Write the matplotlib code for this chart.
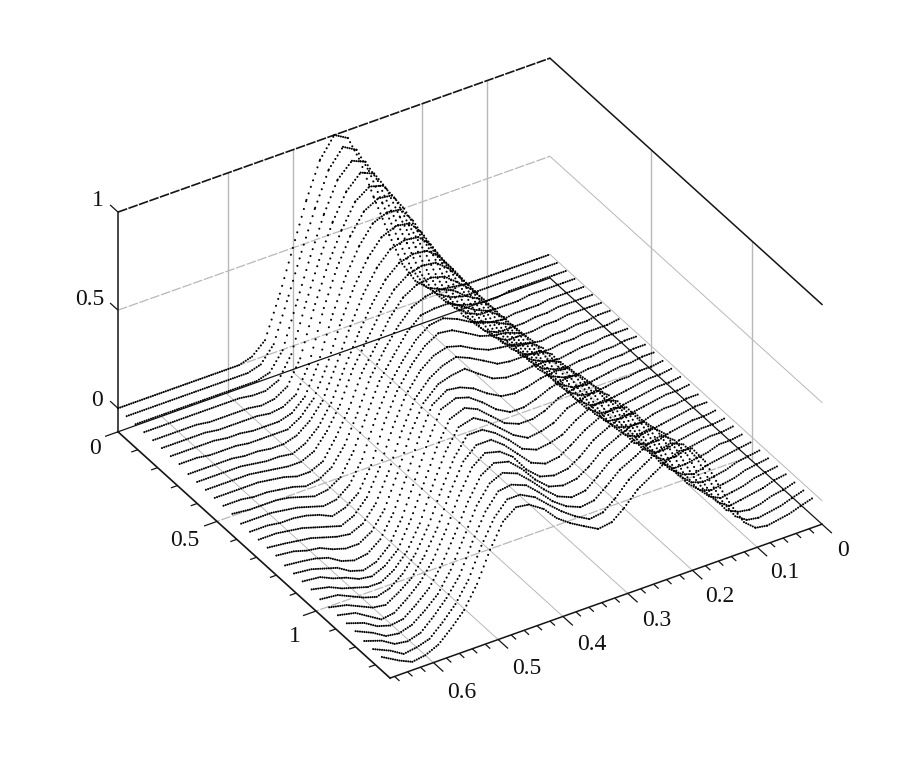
import numpy as np
import matplotlib
matplotlib.use("Agg")
import matplotlib.pyplot as plt
from mpl_toolkits.mplot3d import proj3d
from mpl_toolkits.mplot3d.art3d import Line3DCollection

plt.rcParams['lines.scale_dashes'] = False
plt.rcParams['font.family'] = ['Liberation Serif', 'DejaVu Serif']

# ---------- data ----------
t_values = [.667, .64, .62, .60, .58, .56, .54, .52, .50, .48, .46, .44, .417, .397, .376, .355, .333,
            .312, .293, .272, .248, .228, .208, .188, .168, .148, .128, .108, .09, .072, .055, .038, .02, .00]
p_values = [0, .044, .089, .133, .178, .222, .267, .311, .356, .400, .444, .489, .533, .578, .622, .667,
            .711, .756, .800, .844, .889, .933, .978, 1.022, 1.067, 1.111, 1.156, 1.200, 1.244, 1.289, 1.333]
surface_z = [
 [0,0,0,0, 0,0,0,0, 0,0,.02,.08, .29,.50,.72,.90, 1.0,.96,.82,.61, .39,.22,.11,.05, .02,.01,0,0, 0,0,0,0, 0,0],
 [0,0,0,0, 0,0,0,0, 0,0,.02,.10, .32,.52,.72,.89, .98,.94,.81,.62, .41,.24,.13,.06, .02,0,0,0, 0,0,0,0, 0,0],
 [0,0,0,0, 0,0,0,0, 0,0,.02,.11, .34,.54,.73,.88, .95,.92,.80,.62, .43,.26,.14,.06, .02,0,-.01,-.01, 0,0,0,0, 0,0],
 [0,0,0,0, 0,0,0,0, -.01,-.01,.02,.13, .37,.56,.73,.86, .93,.90,.80,.63, .45,.29,.16,.07, .02,-.01,-.01,-.01, -.01,0,0,0, 0,0],
 [0,0,0,0, -.01,-.01,-.01,-.01, -.02,-.01,.03,.15, .40,.58,.73,.85, .90,.88,.79,.63, .47,.31,.18,.07, .01,-.01,-.02,-.01, -.01,-.01,0,0, 0,0],
 [0,0,0,0, -.01,-.01,-.01,-.01, -.02,-.01,.03,.16, .42,.60,.74,.84, .88,.87,.78,.64, .49,.33,.19,.08, .01,-.02,-.02,-.02, -.01,-.01,0,0, 0,0],
 [0,0,0,0, -.01,-.01,-.02,-.02, -.02,0,.06,.20, .43,.60,.73,.82, .85,.84,.76,.63, .49,.34,.20,.09, .02,-.02,-.02,-.02, -.01,-.01,0,0, 0,0],
 [0,0,-.01,-.01, -.01,-.02,-.02,-.02, -.02,.02,.09,.23, .44,.59,.71,.79, .82,.81,.74,.62, .49,.36,.22,.11, .03,-.01,-.02,-.03, -.02,-.02,-.01,-.01, 0,0],
 [-.01,-.01,-.01,-.01, -.02,-.02,-.03,-.03, -.01,.04,.12,.27, .45,.59,.70,.77, .79,.78,.72,.61, .50,.37,.24,.12, .04,-.01,-.03,-.03, -.02,-.02,-.01,-.01, -.01,0],
 [-.01,-.01,-.01,-.01, -.02,-.03,-.03,-.04, -.01,.05,.15,.30, .46,.58,.68,.74, .76,.75,.70,.61, .50,.38,.25,.14, .05,0,-.03,-.04, -.03,-.02,-.02,-.01, -.01,-.01],
 [-.01,-.01,-.01,-.01, -.02,-.03,-.04,-.04, -.01,.07,.18,.34, .47,.58,.67,.72, .74,.73,.68,.60, .50,.39,.26,.15, .06,0,-.03,-.04, -.03,-.03,-.02,-.02, -.01,-.01],
 [-.01,-.01,-.01,-.01, -.02,-.03,-.05,-.05, -.02,.08,.20,.36, .48,.59,.67,.71, .72,.70,.65,.59, .50,.40,.27,.16, .06,0,-.03,-.04, -.03,-.03,-.02,-.02, -.01,-.01],
 [-.01,-.01,-.02,-.02, -.03,-.04,-.06,-.05, -.01,.08,.22,.38, .50,.59,.66,.69, .70,.67,.62,.58, .50,.40,.28,.17, .07,0,-.04,-.05, -.04,-.03,-.02,-.02, -.01,-.01],
 [-.01,-.02,-.02,-.02, -.03,-.05,-.07,-.06, -.02,.09,.25,.40, .51,.60,.66,.67, .67,.63,.59,.56, .50,.41,.29,.18, .07,0,-.04,-.05, -.04,-.03,-.03,-.02, -.02,-.01],
 [-.02,-.02,-.02,-.03, -.04,-.06,-.08,-.07, -.02,.09,.27,.41, .52,.60,.65,.66, .63,.59,.57,.54, .50,.42,.30,.18, .08,0,-.05,-.06, -.05,-.04,-.03,-.02, -.02,-.01],
 [-.02,-.02,-.03,-.03, -.04,-.06,-.09,-.07, -.02,.10,.29,.43, .54,.61,.65,.64, .60,.56,.54,.53, .50,.43,.32,.19, .08,0,-.05,-.06, -.05,-.04,-.03,-.02, -.02,-.01],
 [-.02,-.02,-.03,-.04, -.06,-.08,-.10,-.07, 0,.13,.31,.45, .55,.60,.62,.60, .56,.53,.52,.51, .49,.44,.34,.21, .10,.01,-.05,-.06, -.05,-.04,-.03,-.02, -.02,-.01],
 [-.02,-.03,-.04,-.05, -.07,-.09,-.10,-.07, .01,.15,.33,.47, .55,.59,.61,.58, .54,.50,.49,.49, .49,.45,.35,.23, .12,.02,-.04,-.06, -.06,-.04,-.03,-.03, -.02,-.02],
 [-.02,-.03,-.05,-.06, -.09,-.11,-.11,-.07, .02,.18,.36,.49, .56,.58,.59,.54, .49,.47,.47,.48, .48,.45,.37,.25, .13,.03,-.04,-.07, -.06,-.05,-.04,-.03, -.02,-.02],
 [-.03,-.04,-.05,-.07, -.11,-.13,-.12,-.07, .04,.20,.38,.52, .57,.56,.53,.48, .44,.43,.44,.46, .47,.46,.38,.27, .15,.05,-.04,-.07, -.07,-.05,-.04,-.03, -.03,-.02],
 [-.03,-.04,-.06,-.08, -.12,-.14,-.12,-.06, .06,.23,.40,.54, .57,.55,.50,.44, .40,.40,.42,.45, .47,.47,.40,.30, .17,.06,-.03,-.07, -.07,-.05,-.04,-.03, -.03,-.02],
 [-.03,-.04,-.07,-.09, -.12,-.13,-.10,-.04, .09,.25,.41,.53, .56,.53,.47,.41, .38,.38,.40,.44, .46,.47,.41,.31, .18,.07,-.02,-.07, -.07,-.05,-.04,-.03, -.03,-.02],
 [-.03,-.05,-.08,-.10, -.12,-.12,-.08,-.01, .11,.28,.43,.53, .55,.51,.45,.39, .35,.36,.38,.43, .45,.47,.42,.32, .19,.08,-.02,-.07, -.07,-.06,-.05,-.03, -.03,-.02],
 [-.04,-.05,-.08,-.11, -.13,-.11,-.06,.02, .14,.30,.44,.53, .53,.49,.43,.36, .33,.34,.36,.41, .45,.46,.43,.33, .20,.08,-.01,-.06, -.08,-.06,-.05,-.04, -.03,-.02],
 [-.04,-.06,-.09,-.12, -.13,-.09,-.04,.05, .17,.33,.46,.52, .52,.47,.40,.33, .30,.31,.35,.40, .44,.46,.44,.35, .22,.09,0,-.06, -.08,-.07,-.06,-.04, -.03,-.02],
 [-.04,-.06,-.10,-.14, -.13,-.08,-.02,.07, .20,.35,.47,.52, .50,.45,.36,.30, .28,.29,.33,.39, .43,.46,.45,.36, .23,.10,0,-.06, -.08,-.07,-.06,-.04, -.03,-.02],
 [-.04,-.07,-.11,-.13, -.12,-.07,-.01,.09, .22,.36,.47,.51, .49,.43,.35,.29, .27,.28,.32,.38, .42,.45,.45,.38, .26,.12,.02,-.05, -.08,-.07,-.06,-.04, -.03,-.02],
 [-.04,-.08,-.12,-.13, -.11,-.06,0,.10, .24,.38,.47,.50, .47,.41,.34,.28, .25,.26,.31,.37, .41,.45,.46,.40, .28,.15,.04,-.04, -.08,-.07,-.06,-.05, -.03,-.02],
 [-.05,-.08,-.12,-.13, -.11,-.05,.02,.11, .26,.39,.47,.48, .45,.39,.32,.27, .24,.25,.30,.36, .40,.44,.46,.41, .31,.17,.05,-.04, -.07,-.08,-.07,-.05, -.04,-.02],
 [-.05,-.09,-.13,-.12, -.10,-.04,.03,.13, .28,.40,.47,.47, .43,.37,.31,.26, .22,.23,.28,.35, .40,.44,.46,.43, .34,.20,.07,-.03, -.07,-.08,-.07,-.06, -.04,-.02],
 [-.05,-.10,-.13,-.12, -.09,-.03,.04,.15, .30,.42,.47,.46, .41,.34,.29,.25, .21,.22,.27,.34, .39,.43,.46,.45, .36,.22,.09,-.02, -.07,-.08,-.07,-.06, -.04,-.02],
]
t_ticks_major = [0, .1, .2, .3, .4, .5, .6]
t_ticks_minor = [.02, .04, .06, .08, .12, .14, .16, .18, .22, .24, .26, .28, .32, .34, .36, .38,
                 .42, .44, .46, .48, .52, .54, .56, .58, .62, .64, .66]
p_ticks_major = [0, .5, 1]
p_ticks_minor = [.1, .2, .3, .4, .6, .7, .8, .9, 1.1, 1.2, 1.3]
z_ticks = [0, .5, 1]
wall_t_grid = [.097, .197, .397, .497]
wall_p_grid = [.51, 1.02]
t_labels = ['0', '0.1', '0.2', '0.3', '0.4', '0.5', '0.6']
p_labels = ['0', '0.5', '1']
z_labels = ['0', '0.5', '1']
T_MAX, P_MAX, Z_MIN, Z_MAX = .667, 1.374, -.12, 1.0

# ---------- axes ----------
W, H = 910, 766
fig = plt.figure(figsize=(W / 100, H / 100), dpi=100, facecolor='white')
ax = fig.add_axes([.1, .1, .8, .8], projection='3d')
ax.set_proj_type('ortho')
ax.view_init(elev=34.6, azim=57.9)
ax.set_box_aspect((510, 512, 267), zoom=1.0)
ax.set_xlim(0, T_MAX, view_margin=0)
ax.set_ylim(0, P_MAX, view_margin=0)
ax.set_zlim(Z_MIN, Z_MAX, view_margin=0)
ax.set_axis_off()
ax.patch.set_alpha(0)


def to_px(a, b, c):
    X, Y, _ = proj3d.proj_transform(a, b, c, ax.get_proj())
    px = ax.transData.transform((X, Y))
    return px[0], H - px[1]


# Fit the axes box so that the floor corners land where the reference has them.
left_target, right_target = (118.0, 432.0), (822.0, 524.0)
px0, py0, size = 100.0, 60.0, 600.0
for _ in range(4):
    ax.set_position([px0 / W, 1 - (py0 + size) / H, size / W, size / H])
    ax.apply_aspect()
    a = to_px(T_MAX, 0, Z_MIN)
    c = to_px(0, P_MAX, Z_MIN)
    k = (right_target[0] - left_target[0]) / (c[0] - a[0])
    size *= k
    cx, cy = px0 + (size / k) / 2, py0 + (size / k) / 2
    ax_c = ((a[0] + c[0]) / 2, (a[1] + c[1]) / 2)
    tgt = ((left_target[0] + right_target[0]) / 2, (left_target[1] + right_target[1]) / 2)
    cx += tgt[0] - ax_c[0] - (ax_c[0] - cx) * (k - 1)
    cy += tgt[1] - ax_c[1] - (ax_c[1] - cy) * (k - 1)
    px0, py0 = cx - size / 2, cy - size / 2
ax.set_position([px0 / W, 1 - (py0 + size) / H, size / W, size / H])
ax.apply_aspect()

GRID = '#b8b8b8'
DARK = '#141414'
gdash = (0, (7, 1.2))
tk = dict(color=DARK, lw=.9, solid_capstyle='butt')

# walls and floor grid
for z in [.5, 0]:
    ax.plot([T_MAX, 0], [0, 0], [z, z], color=GRID, lw=.9, ls=gdash)
    ax.plot([0, 0], [0, P_MAX], [z, z], color=GRID, lw=.7)
for t in wall_t_grid:
    ax.plot([t, t], [0, 0], [Z_MIN, Z_MAX], color=GRID, lw=1.0)
for p in wall_p_grid:
    ax.plot([0, 0], [p, p], [Z_MIN, Z_MAX], color=GRID, lw=1.0)
for t in t_ticks_major[1:]:
    ax.plot([t, t], [0, P_MAX], [Z_MIN, Z_MIN], color=GRID, lw=.7)
for p in p_ticks_major[1:]:
    ax.plot([0, T_MAX], [p, p], [Z_MIN, Z_MIN], color=GRID, lw=.9, ls=gdash)

# box edges
ax.plot([T_MAX, T_MAX], [0, 0], [Z_MIN, Z_MAX], color=DARK, lw=1.1)
ax.plot([T_MAX, 0], [0, 0], [Z_MAX, Z_MAX], color=DARK, lw=1.2, ls=(0, (7, 1)))
ax.plot([0, 0], [0, P_MAX], [Z_MAX, Z_MAX], color=DARK, lw=1.1)
ax.plot([T_MAX, 0], [0, 0], [Z_MIN, Z_MIN], color=DARK, lw=.9)
ax.plot([0, 0], [0, P_MAX], [Z_MIN, Z_MIN], color=DARK, lw=.9)
ax.plot([T_MAX, T_MAX], [0, P_MAX], [Z_MIN, Z_MIN], color=DARK, lw=1.2)
ax.plot([T_MAX, 0], [P_MAX, P_MAX], [Z_MIN, Z_MIN], color=DARK, lw=1.1)

# ticks
for z in z_ticks:
    ax.plot([T_MAX, T_MAX], [0, -.04], [z, z], **tk)
for t in t_ticks_major:
    ax.plot([t, t], [P_MAX, P_MAX + .05], [Z_MIN, Z_MIN], **tk)
for t in t_ticks_minor:
    ax.plot([t, t], [P_MAX, P_MAX + .025], [Z_MIN, Z_MIN], **tk)
for p in p_ticks_major:
    ax.plot([T_MAX, T_MAX + .02], [p, p], [Z_MIN, Z_MIN], **tk)
for p in p_ticks_minor:
    ax.plot([T_MAX, T_MAX + .01], [p, p], [Z_MIN, Z_MIN], **tk)

# surface: one dotted line per p, with the dot spacing following the step in t
DOT_DT = .0034
segs, styles = [], []
for p, row in zip(p_values, surface_z):
    for j in range(len(t_values) - 1):
        t0, t1, z0, z1 = t_values[j], t_values[j + 1], row[j], row[j + 1]
        segs.append([(t0, p, z0), (t1, p, z1)])
        u, v = to_px(t0, p, z0), to_px(t1, p, z1)
        length = np.hypot(u[0] - v[0], u[1] - v[1])
        gap = length / max((t0 - t1) / DOT_DT, 1) * .72
        styles.append((0, (.01, max(gap - .01, .05))))
lc = Line3DCollection(segs, colors='black', linewidths=1.55, linestyles=styles, capstyle='round')
ax.add_collection3d(lc, autolim=False)

# tick labels
FS = 17
t_label_xy = [(843, 550), (785, 572), (720, 596), (657, 620), (592, 644), (527, 668), (462, 692)]
p_label_xy = [(95, 448), (185, 541), (295, 636)]
z_label_xy = [(97, 400), (90, 300), (98, 200)]
for labels, xy in [(t_labels, t_label_xy), (p_labels, p_label_xy), (z_labels, z_label_xy)]:
    for s, (x, y) in zip(labels, xy):
        fig.text(x / W, 1 - y / H, s, ha='center', va='center', fontsize=FS, color='#111111')

fig.savefig('out.png', dpi=100)
